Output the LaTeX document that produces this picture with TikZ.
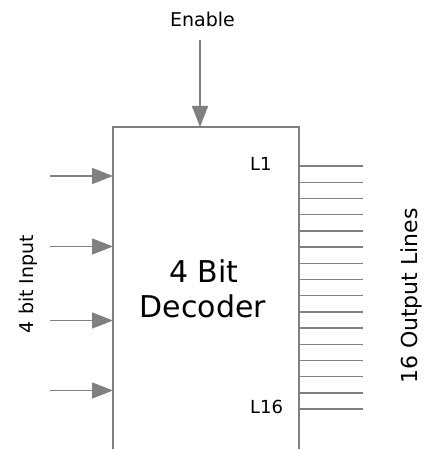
\documentclass[tikz,border=0pt]{standalone}
\usepackage{fontspec}
\setmainfont{DejaVu Sans}
\usetikzlibrary{arrows.meta}
\definecolor{linegray}{RGB}{128,128,128}
\begin{document}
\begin{tikzpicture}[x=1pt,y=-1pt,
  wire/.style={draw=linegray, line width=1.4pt},
  sig/.style={wire, -{Triangle[length=21pt,width=16pt]}},
  lbl/.style={inner sep=0pt, text=black},
]
\useasboundingbox (0,0) rectangle (423,449);
% open-bottom decoder box
\coordinate (bl) at (113,449);
\coordinate (tl) at (113,127);
\coordinate (tr) at (299,127);
\coordinate (br) at (299,449);
\draw[wire] (bl) -- (tl) -- (tr) -- (br);
% enable
\node[lbl, font=\fontsize{19}{19}\selectfont, anchor=base] (en) at (202.5,26.7) {Enable};
\coordinate (enS) at (200,40);
\coordinate (enE) at (200,127);
\draw[sig] (enS) -- (enE);
% inputs
\foreach \i/\yy in {1/176,2/246.5,3/320.5,4/390.5}{
  \coordinate (in\i s) at (50,\yy);
  \coordinate (in\i e) at (113,\yy);
  \draw[sig] (in\i s) -- (in\i e);
}
% outputs
\foreach \i in {1,...,16}{
  \pgfmathsetmacro{\yy}{166+(\i-1)*16.2}
  \coordinate (o\i s) at (299,\yy);
  \coordinate (o\i e) at (363,\yy);
  \draw[wire] (o\i s) -- (o\i e);
}
% labels
\node[lbl, font=\fontsize{30}{30}\selectfont, anchor=base] (t1) at (204,282) {4 Bit};
\node[lbl, font=\fontsize{30}{30}\selectfont, anchor=base] (t2) at (203,317) {Decoder};
\node[lbl, font=\fontsize{18}{18}\selectfont, anchor=base west] (l1) at (250,170.7) {L1};
\node[lbl, font=\fontsize{18}{18}\selectfont, anchor=base west] (l16) at (250,413.3) {L16};
\node[lbl, font=\fontsize{19}{19}\selectfont, anchor=base, rotate=90] (inl) at (33.3,284) {4 bit Input};
\node[lbl, font=\fontsize{22}{22}\selectfont, anchor=base, rotate=90] (outl) at (417.5,296) {16 Output Lines};
\end{tikzpicture}
\end{document}
